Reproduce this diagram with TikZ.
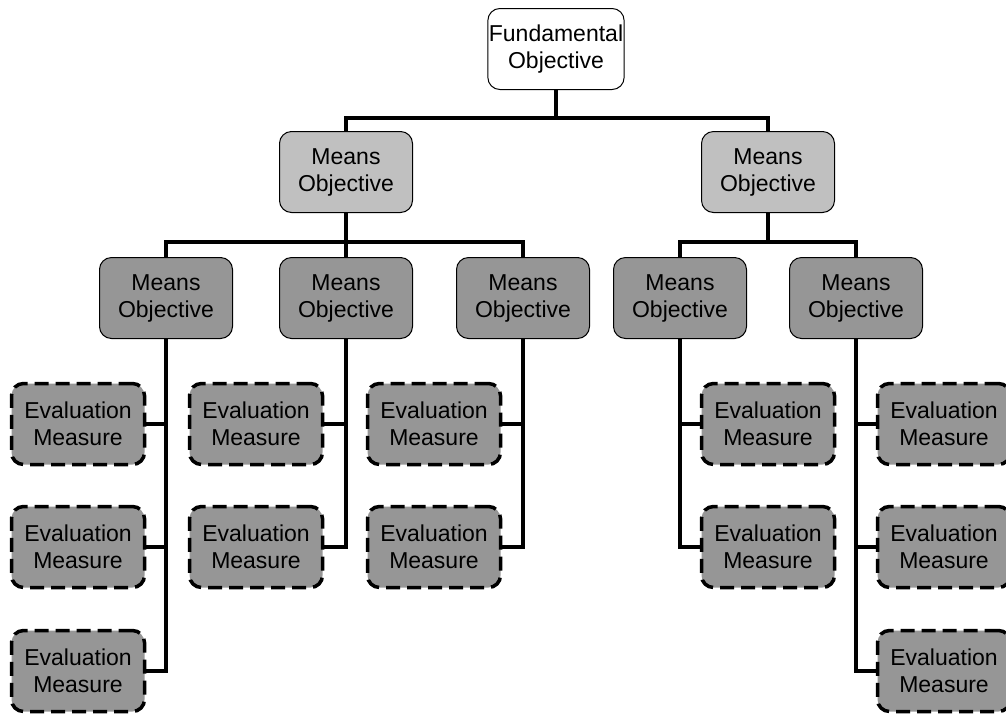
\documentclass[tikz,border=0pt]{standalone}
\usepackage{fontspec}
\setmainfont{Liberation Sans}
\definecolor{meanslight}{HTML}{C0C0C0}
\definecolor{meansdark}{HTML}{969696}

\tikzset{
  objbox/.style={draw,rounded corners=12pt,minimum width=133pt,minimum height=81pt,
    inner sep=1pt,align=center,line width=1pt,font=\fontsize{23}{27}\selectfont},
  fundbox/.style={objbox,fill=white,minimum width=135pt},
  meanstop/.style={objbox,fill=meanslight},
  meanslow/.style={objbox,fill=meansdark},
  evalbox/.style={objbox,fill=meansdark,line width=3.5pt,dash pattern=on 14pt off 7pt},
  branch/.style={line width=3.5pt}
}

\begin{document}
\begin{tikzpicture}[x=1pt,y=1pt]
  \useasboundingbox (0,0) rectangle (1006,-713);
  \coordinate (busa) at (0,-118);
  \coordinate (busb) at (0,-242);

  %fundamental objective
  \node[fundbox] (fund) at (556,-49) {Fundamental\\Objective};

  %means objectives, first level
  \node[meanstop] (ml) at (346,-172) {Means\\Objective};
  \node[meanstop] (mr) at (768,-172) {Means\\Objective};

  %means objectives, second level
  \node[meanslow] (a1) at (166,-298) {Means\\Objective};
  \node[meanslow] (a2) at (346,-298) {Means\\Objective};
  \node[meanslow] (a3) at (523,-298) {Means\\Objective};
  \node[meanslow] (a4) at (680,-298) {Means\\Objective};
  \node[meanslow] (a5) at (856,-298) {Means\\Objective};

  %evaluation measures
  \node[evalbox] (e11) at (78,-424) {Evaluation\\Measure};
  \node[evalbox] (e12) at (78,-547) {Evaluation\\Measure};
  \node[evalbox] (e13) at (78,-671) {Evaluation\\Measure};
  \node[evalbox] (e21) at (256,-424) {Evaluation\\Measure};
  \node[evalbox] (e22) at (256,-547) {Evaluation\\Measure};
  \node[evalbox] (e31) at (434,-424) {Evaluation\\Measure};
  \node[evalbox] (e32) at (434,-547) {Evaluation\\Measure};
  \node[evalbox] (e41) at (768,-424) {Evaluation\\Measure};
  \node[evalbox] (e42) at (768,-547) {Evaluation\\Measure};
  \node[evalbox] (e51) at (944,-424) {Evaluation\\Measure};
  \node[evalbox] (e52) at (944,-547) {Evaluation\\Measure};
  \node[evalbox] (e53) at (944,-671) {Evaluation\\Measure};

  %top branches
  \draw[branch] (fund.south) -- (fund.south |- busa);
  \draw[branch] (ml.north) |- (busa -| mr.north) -- (mr.north);

  %second level branches
  \draw[branch] (ml.south) -- (ml.south |- busb);
  \draw[branch] (a1.north) |- (busb -| a3.north) -- (a3.north);
  \draw[branch] (a2.north) -- (a2.north |- busb);
  \draw[branch] (mr.south) -- (mr.south |- busb);
  \draw[branch] (a4.north) |- (busb -| a5.north) -- (a5.north);

  %measure branches
  \draw[branch] (a1.south) |- (e13.east);
  \draw[branch] (e11.east) -- (e11.east -| a1.south);
  \draw[branch] (e12.east) -- (e12.east -| a1.south);
  \draw[branch] (a2.south) |- (e22.east);
  \draw[branch] (e21.east) -- (e21.east -| a2.south);
  \draw[branch] (a3.south) |- (e32.east);
  \draw[branch] (e31.east) -- (e31.east -| a3.south);
  \draw[branch] (a4.south) |- (e42.west);
  \draw[branch] (e41.west) -- (e41.west -| a4.south);
  \draw[branch] (a5.south) |- (e53.west);
  \draw[branch] (e51.west) -- (e51.west -| a5.south);
  \draw[branch] (e52.west) -- (e52.west -| a5.south);
\end{tikzpicture}
\end{document}
